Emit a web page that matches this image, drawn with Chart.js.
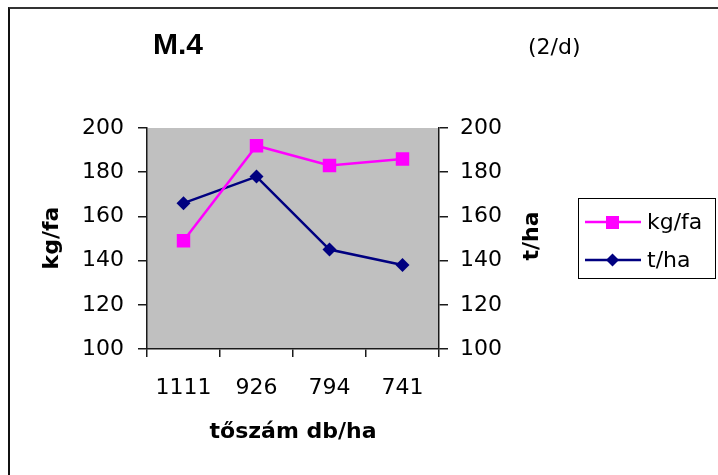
<!DOCTYPE html>
<html>
<head>
<meta charset="utf-8">
<script src="https://cdn.jsdelivr.net/npm/chart.js@4"></script>
<style>
  body { margin: 0; background: #fff; }
  #wrap { position: relative; width: 718px; height: 475px; overflow: hidden; }
  #frame { position: absolute; left: 8px; top: 7px; width: 800px; height: 600px;
           border-top: 2px solid #333; border-left: 2px solid #111; }
  #chart { position: absolute; left: 0; top: 0; }
</style>
</head>
<body>
<div id="wrap">
  <div id="frame"></div>
  <canvas id="chart" width="718" height="475"></canvas>
</div>
<script>
// tőszám kategóriák és a két mért sorozat
const categories = ['1111', '926', '794', '741'];
const kgPerTree = [149, 192, 183, 186];
const tPerHa = [166, 178, 145, 138];
const axisMin = 100;
const axisMax = 200;
const axisStep = 20;

const textFont = '"DejaVu Sans", sans-serif';
const axisColor = '#1a1a1a';

// szürke rajzterület
const plotBackground = {
    id: 'plotBackground',
    beforeDraw(chart) {
        const { ctx, chartArea: a } = chart;
        ctx.save();
        ctx.fillStyle = '#c0c0c0';
        ctx.fillRect(a.left, a.top, a.right - a.left, a.bottom - a.top);
        ctx.restore();
    }
};

// címek, tengelyfeliratok és jelmagyarázat
const extraText = {
    id: 'extraText',
    afterDraw(chart) {
        const ctx = chart.ctx;
        ctx.save();
        ctx.fillStyle = '#000';
        ctx.textBaseline = 'middle';

        ctx.textAlign = 'center';
        ctx.font = 'bold 30px "Liberation Sans", Arial, sans-serif';
        ctx.fillText('M.4', 178, 46);

        ctx.textAlign = 'left';
        ctx.font = '22px ' + textFont;
        ctx.fillText('(2/d)', 528, 48);

        ctx.textAlign = 'center';
        ctx.font = 'bold 22px ' + textFont;
        ctx.fillText('tőszám db/ha', 293, 432);

        ctx.save();
        ctx.translate(52, 238);
        ctx.rotate(-Math.PI / 2);
        ctx.fillText('kg/fa', 0, 0);
        ctx.restore();

        ctx.save();
        ctx.translate(532, 236);
        ctx.rotate(-Math.PI / 2);
        ctx.fillText('t/ha', 0, 0);
        ctx.restore();

        // jelmagyarázat doboz
        ctx.strokeStyle = '#000';
        ctx.lineWidth = 1;
        ctx.strokeRect(578.5, 198.5, 137, 80);
        const rows = [222, 260];
        chart.data.datasets.forEach((ds, i) => {
            const y = rows[i];
            ctx.strokeStyle = ds.borderColor;
            ctx.lineWidth = 2.5;
            ctx.beginPath();
            ctx.moveTo(585, y);
            ctx.lineTo(641, y);
            ctx.stroke();
            ctx.fillStyle = ds.borderColor;
            if (ds.pointStyle === 'rect') {
                ctx.fillRect(606, y - 6, 13, 13);
            } else {
                ctx.beginPath();
                ctx.moveTo(612.5, y - 6.5);
                ctx.lineTo(619, y);
                ctx.lineTo(612.5, y + 6.5);
                ctx.lineTo(606, y);
                ctx.closePath();
                ctx.fill();
            }
            ctx.fillStyle = '#000';
            ctx.textAlign = 'left';
            ctx.font = '22px ' + textFont;
            ctx.fillText(ds.label, 647, y + 1);
        });
        ctx.restore();
    }
};

new Chart(document.getElementById('chart'), {
    type: 'line',
    data: {
        labels: categories,
        datasets: [
            {
                label: 'kg/fa',
                data: kgPerTree,
                yAxisID: 'y',
                borderColor: '#ff00ff',
                backgroundColor: '#ff00ff',
                borderWidth: 2.5,
                pointStyle: 'rect',
                pointRadius: 9.5,
                pointBorderWidth: 0,
                tension: 0
            },
            {
                label: 't/ha',
                data: tPerHa,
                yAxisID: 'y1',
                borderColor: '#000080',
                backgroundColor: '#000080',
                borderWidth: 2.5,
                pointStyle: 'rectRot',
                pointRadius: 7,
                pointBorderWidth: 0,
                tension: 0
            }
        ]
    },
    options: {
        responsive: false,
        animation: false,
        layout: { padding: { top: 128, left: 0, right: 0, bottom: 0 } },
        plugins: { legend: { display: false }, tooltip: { enabled: false } },
        scales: {
            x: {
                offset: true,
                afterFit: s => { s.height = 126; },
                grid: { offset: true, drawOnChartArea: false, tickLength: 8, color: axisColor, lineWidth: 1.5 },
                border: { color: axisColor, width: 1.5 },
                ticks: { color: '#000', font: { family: textFont, size: 22 }, padding: 18, maxRotation: 0 }
            },
            y: {
                position: 'left',
                min: axisMin,
                max: axisMax,
                afterFit: s => { s.width = 147; },
                grid: { drawOnChartArea: false, tickLength: 9, color: axisColor, lineWidth: 1.5 },
                border: { color: axisColor, width: 1.5 },
                ticks: { stepSize: axisStep, color: '#000', font: { family: textFont, size: 22 }, padding: 14 }
            },
            y1: {
                position: 'right',
                min: axisMin,
                max: axisMax,
                afterFit: s => { s.width = 279; },
                grid: { drawOnChartArea: false, tickLength: 9, color: axisColor, lineWidth: 1.5 },
                border: { color: axisColor, width: 1.5 },
                ticks: { stepSize: axisStep, color: '#000', font: { family: textFont, size: 22 }, padding: 12 }
            }
        }
    },
    plugins: [plotBackground, extraText]
});
</script>
</body>
</html>
